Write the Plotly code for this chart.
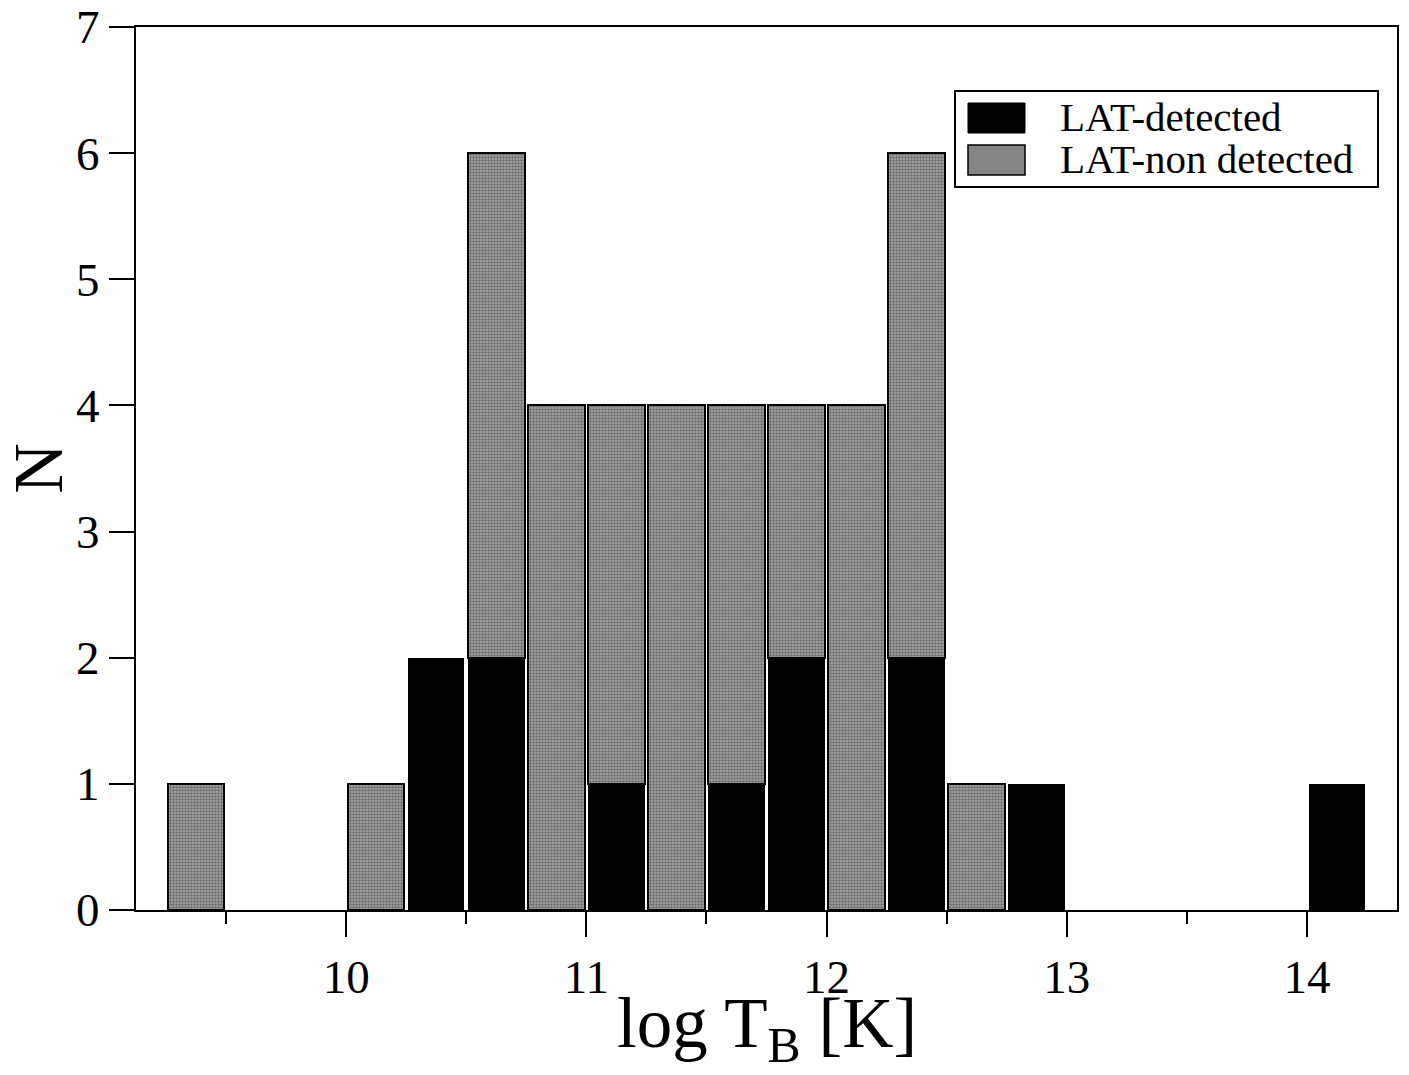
import plotly.graph_objects as go

# bin centres of log T_B [K]
bin_centers = [9.375, 10.125, 10.375, 10.625, 10.875, 11.125, 11.375,
               11.625, 11.875, 12.125, 12.375, 12.625, 12.875, 14.125]
# counts per bin
lat_detected = [0, 0, 2, 2, 0, 1, 0, 1, 2, 0, 2, 0, 1, 1]
lat_non_detected = [1, 1, 0, 4, 4, 3, 4, 3, 2, 4, 4, 1, 0, 0]

x_ticks = [10, 11, 12, 13, 14]
y_ticks = [0, 1, 2, 3, 4, 5, 6, 7]
legend_labels = ["LAT-detected", "LAT-non detected"]

FONT = "Liberation Serif"
GREY = "#858585"

det = [v if v > 0 else None for v in lat_detected]
nondet = [v if v > 0 else None for v in lat_non_detected]

fig = go.Figure()
fig.add_trace(go.Bar(
    x=bin_centers, y=det, name=legend_labels[0],
    marker=dict(color="black", line=dict(width=0)),
    showlegend=False,
))
fig.add_trace(go.Bar(
    x=bin_centers, y=nondet, name=legend_labels[1],
    marker=dict(color="#a0a0a0", line=dict(color="black", width=2),
                pattern=dict(shape=".", fgcolor="#2e2e2e", bgcolor="#a8a8a8",
                             size=3, solidity=0.5)),
    showlegend=False,
))

# manual legend (paper coordinates)
def px2x(px):
    return (px - 136) / 1261

def py2y(py):
    return (910 - py) / 883

shapes = [
    dict(type="rect", xref="paper", yref="paper",
         x0=px2x(955), x1=px2x(1378), y0=py2y(187), y1=py2y(91),
         line=dict(color="black", width=2), fillcolor="white", layer="above"),
    dict(type="rect", xref="paper", yref="paper",
         x0=px2x(968), x1=px2x(1025), y0=py2y(133), y1=py2y(103),
         line=dict(color="black", width=1), fillcolor="black", layer="above"),
    dict(type="rect", xref="paper", yref="paper",
         x0=px2x(968), x1=px2x(1025), y0=py2y(175), y1=py2y(145),
         line=dict(color="black", width=1.5), fillcolor=GREY, layer="above"),
]
annotations = [
    dict(text=legend_labels[0], xref="paper", yref="paper", x=px2x(1058), y=py2y(117),
         xanchor="left", yanchor="middle", showarrow=False,
         font=dict(family=FONT, size=41, color="black")),
    dict(text=legend_labels[1], xref="paper", yref="paper", x=px2x(1058), y=py2y(159),
         xanchor="left", yanchor="middle", showarrow=False,
         font=dict(family=FONT, size=41, color="black")),
    dict(text="log T<sub>B</sub> [K]", xref="paper", yref="paper", x=0.5,
         y=py2y(1075), xanchor="center", yanchor="bottom", showarrow=False,
         font=dict(family=FONT, size=71, color="black")),
]

fig.update_layout(
    width=1409, height=1075,
    margin=dict(l=136, r=12, t=27, b=165),
    paper_bgcolor="white", plot_bgcolor="white",
    barmode="stack", bargap=0.06,
    font=dict(family=FONT, color="black"),
    shapes=shapes, annotations=annotations,
    xaxis=dict(
        range=[9.125, 14.375], tickvals=x_ticks, ticks="outside", ticklen=25,
        tickwidth=2, tickcolor="black", showline=True, linecolor="black",
        linewidth=2, mirror=True, showgrid=False, zeroline=False,
        automargin=False,
        tickfont=dict(family=FONT, size=47),
        minor=dict(dtick=0.5, tick0=0, ticks="outside", ticklen=12,
                   tickwidth=2, tickcolor="black", showgrid=False),
    ),
    yaxis=dict(
        range=[0, 7], tickvals=y_ticks, ticks="outside", ticklen=25,
        tickwidth=2, tickcolor="black", showline=True, linecolor="black",
        linewidth=2, mirror=True, showgrid=False, zeroline=False,
        automargin=False,
        tickfont=dict(family=FONT, size=47),
        title=dict(text="N", font=dict(family=FONT, size=70), standoff=6),
    ),
)

fig.write_html("out.html")
